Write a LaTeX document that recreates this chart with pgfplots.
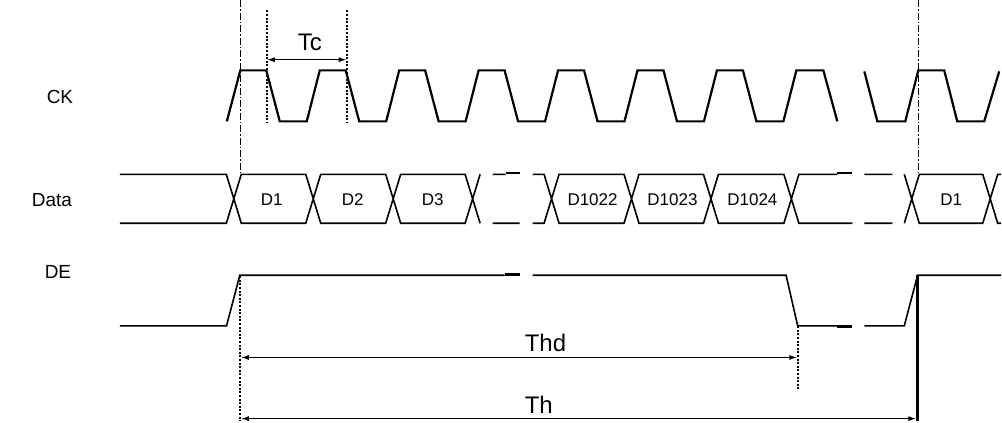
\documentclass[border=0pt]{standalone}
\usepackage{pgfplots}
\pgfplotsset{compat=1.18}
\usepackage{fontspec}
\setmainfont{Liberation Sans}
\usetikzlibrary{arrows.meta}
\begin{document}
\begin{tikzpicture}
\begin{axis}[width=1002pt,height=421pt,scale only axis,
  xmin=0,xmax=1002,ymin=0,ymax=421,y dir=reverse,hide axis,clip=false,
  unbounded coords=jump]
\addplot[draw=none] coordinates {(0,0) (1002,421)};
% CK
\addplot[black,line width=2.2pt] coordinates {
(227,121) (240.5,70) (266.5,70) (280,121) (307,121)
(320,70) (346,70) (359.5,121) (386.5,121)
(399.5,70) (425.5,70) (439,121) (466,121)
(479,70) (505,70) (518.5,121) (545.5,121)
(558.5,70) (584.5,70) (598,121) (625,121)
(638,70) (664,70) (677.5,121) (704.5,121)
(717.5,70) (743.5,70) (757,121) (784,121)
(797,70) (824,70) (838,121)
(838,nan)
(865,71) (878,121) (906,121) (919,70) (945,70) (958,121) (985,121) (1000,71)};
% Data
\addplot[black,line width=1.6pt] coordinates {
(120,174) (226.5,174) (241.5,223) (306,223) (321,174) (386,174) (401,223) (465.5,223) (480.5,174)
(480.5,nan)
(120,223) (226.5,223) (241.5,174) (306,174) (321,223) (386,223) (401,174) (465.5,174) (480.5,223)
(480.5,nan)
(493,174) (506,174) (506,nan) (493,223) (520,223) (520,nan)
(533,174) (544.5,174) (559.5,223) (624.5,223) (639.5,174) (704,174) (719,223) (784.5,223) (799.5,174) (838,174)
(838,nan)
(533,223) (544.5,223) (559.5,174) (624.5,174) (639.5,223) (704,223) (719,174) (784.5,174) (799.5,223) (853,223)
(853,nan)
(865,174) (893,174) (893,nan) (865,223) (893,223) (893,nan)
(905,174) (920,223) (983.5,223) (998.5,174) (1002,174)
(1002,nan)
(905,223) (920,174) (983.5,174) (998.5,223) (1002,223)};
% short thick pieces at the breaks
\addplot[black,line width=2.4pt] coordinates {(506,172.8) (520,172.8) (520,nan) (838,172.8) (853,172.8)};
% DE
\addplot[black,line width=1.6pt] coordinates {
(120,325.7) (226.7,325.7) (240,275) (505,275) (505,nan)
(533,275) (786.7,275) (798.3,325.7) (838,325.7) (838,nan)
(865,325.7) (905,325.7) (918.3,275) (1002,275)};
\addplot[black,line width=2.4pt] coordinates {(505,274.2) (520,274.2) (520,nan) (838,326.5) (853,326.5)};
\addplot[black,line width=2.4pt] coordinates {(918.3,275) (918.3,421)};
% dash-dot markers
\addplot[black,line width=0.9pt,dash pattern=on 7pt off 2pt on 1.5pt off 2pt] coordinates {(241,0) (241,174)};
\addplot[black,line width=0.9pt,dash pattern=on 7pt off 2pt on 1.5pt off 2pt] coordinates {(919,0) (919,174)};
% dotted
\addplot[black,line width=2pt,dash pattern=on 2pt off 1.6pt] coordinates {(267,10) (267,122)};
\addplot[black,line width=2pt,dash pattern=on 2pt off 1.6pt] coordinates {(347,10) (347,122)};
\addplot[black,line width=2pt,dash pattern=on 2pt off 1.6pt] coordinates {(240,276) (240,421)};
\addplot[black,line width=2pt,dash pattern=on 2pt off 1.6pt] coordinates {(798.3,326) (798.3,390)};
% arrows
\addplot[black,line width=1.4pt,{Latex[length=8pt,width=5pt]}-{Latex[length=8pt,width=5pt]}] coordinates {(267,59.3) (347,59.3)};
\addplot[black,line width=1.4pt,{Latex[length=8pt,width=5pt]}-{Latex[length=8pt,width=5pt]}] coordinates {(241,357.3) (798,357.3)};
\addplot[black,line width=1.4pt,{Latex[length=8pt,width=5pt]}-{Latex[length=8pt,width=5pt]}] coordinates {(241,418.5) (917,418.5)};
% labels
\node[anchor=base west,inner sep=0pt,font=\fontsize{24}{28}\selectfont] at (axis cs:298,50) {Tc};
\node[anchor=base west,inner sep=0pt,font=\fontsize{24}{28}\selectfont] at (axis cs:525,351.7) {Thd};
\node[anchor=base west,inner sep=0pt,font=\fontsize{24}{28}\selectfont] at (axis cs:525,413.3) {Th};
\node[inner sep=0pt,font=\fontsize{19}{22}\selectfont] at (axis cs:60,97) {CK};
\node[inner sep=0pt,font=\fontsize{19}{22}\selectfont] at (axis cs:52,200) {Data};
\node[inner sep=0pt,font=\fontsize{19}{22}\selectfont] at (axis cs:58,272) {DE};
\node[inner sep=0pt,font=\fontsize{17}{20}\selectfont] at (axis cs:272,199) {D1};
\node[inner sep=0pt,font=\fontsize{17}{20}\selectfont] at (axis cs:353,199) {D2};
\node[inner sep=0pt,font=\fontsize{17}{20}\selectfont] at (axis cs:433,199) {D3};
\node[inner sep=0pt,font=\fontsize{17}{20}\selectfont] at (axis cs:593,199) {D1022};
\node[inner sep=0pt,font=\fontsize{17}{20}\selectfont] at (axis cs:673,199) {D1023};
\node[inner sep=0pt,font=\fontsize{17}{20}\selectfont] at (axis cs:753,199) {D1024};
\node[inner sep=0pt,font=\fontsize{17}{20}\selectfont] at (axis cs:952,199) {D1};
\end{axis}
\end{tikzpicture}
\end{document}
